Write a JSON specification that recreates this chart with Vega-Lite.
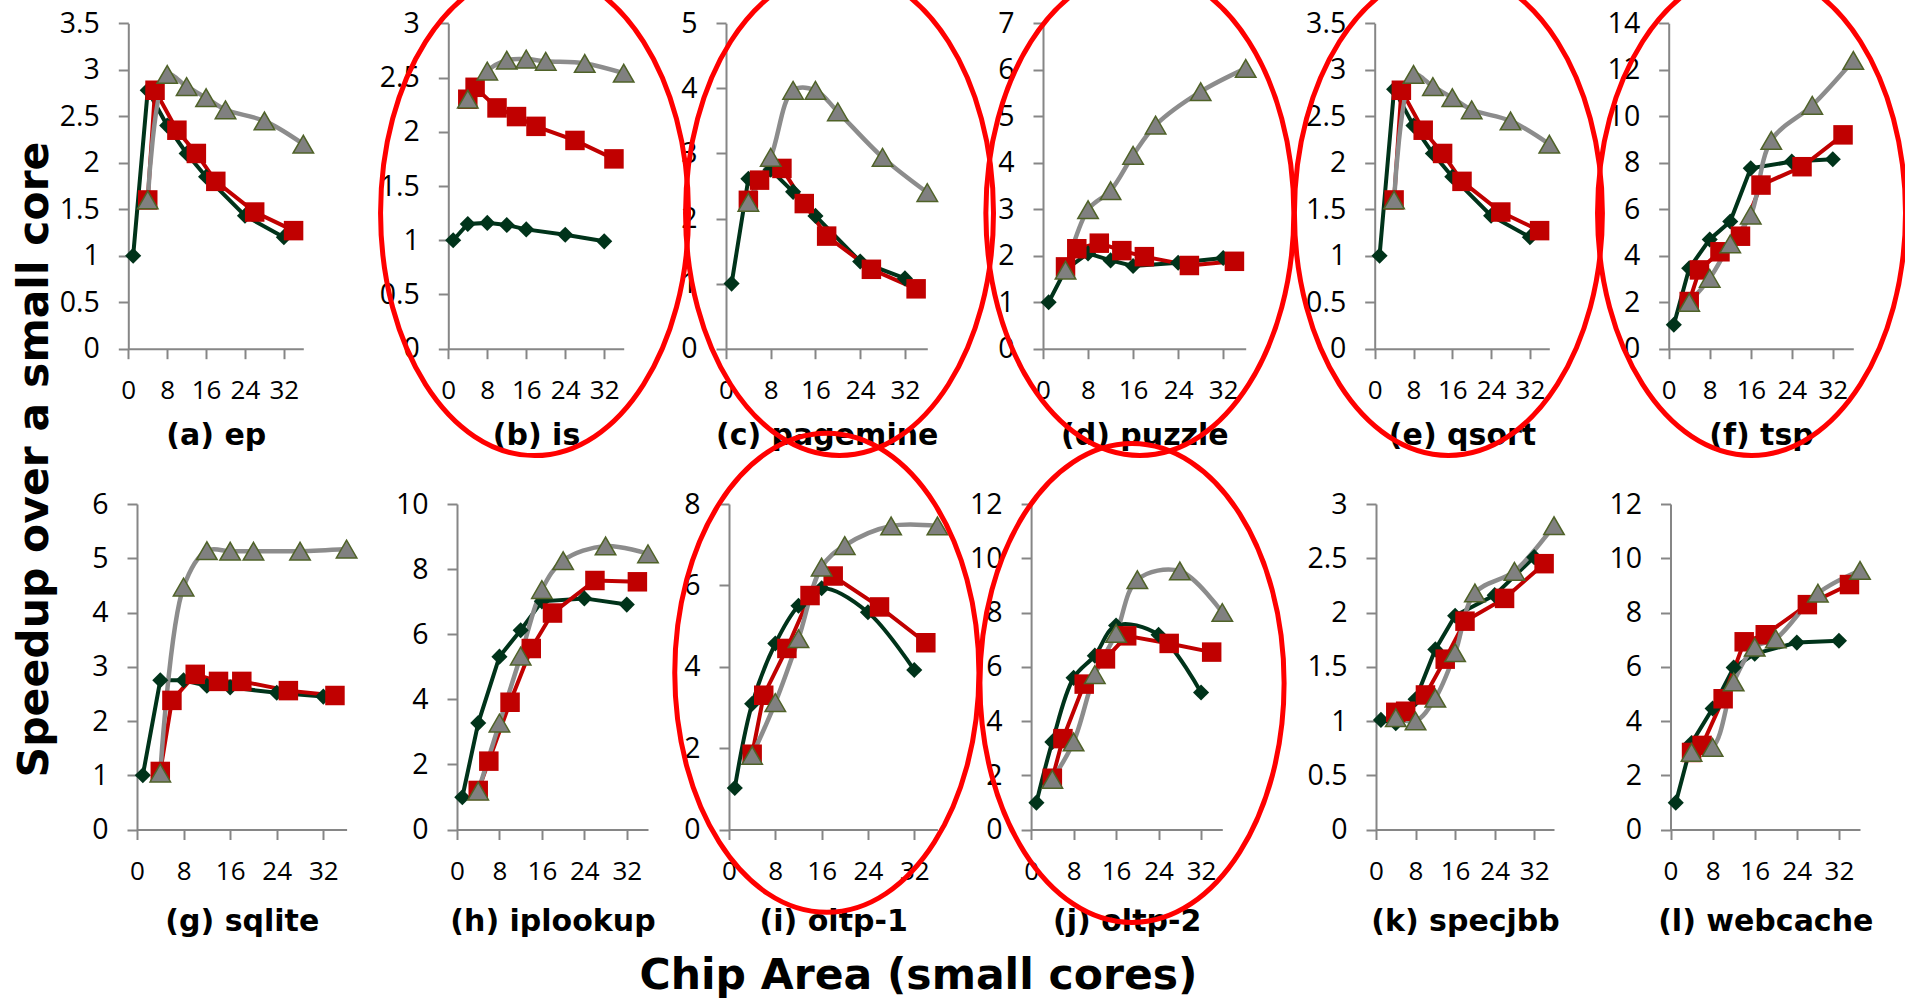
{
"$schema": "https://vega.github.io/schema/vega-lite/v6.json",
"width": 1905, "height": 1001,
"autosize": {"type": "none"},
"padding": 0,
"background": "white",
"config": {
  "view": {"stroke": null},
  "axis": {"domainColor": "#868686", "domainWidth": 2, "tickColor": "#868686", "tickWidth": 2, "tickSize": 10, "grid": false,
    "labelColor": "#000", "labelFont": "Open Sans", "titleFont": "DejaVu Sans", "titleFontWeight": "bold", "titleColor": "#000",
    "labelOverlap": false, "labelFlush": false},
  "axisX": {"labelFontSize": 26, "labelBaseline": "alphabetic", "labelPadding": 40, "titleFontSize": 30, "titleBaseline": "alphabetic", "format": "d"},
  "axisY": {"labelFontSize": 28.5, "labelPadding": 19, "format": "~f"}
},
"title": {"text": "Chip Area (small cores)", "orient": "bottom", "frame": "group", "anchor": "middle", "dx": -34, "offset": -12, "baseline": "alphabetic", "font": "DejaVu Sans", "fontSize": 42.5, "fontWeight": "bold", "color": "#000"},
"datasets": {
"hl": [
{"p":"is","x":17.7,"y":1.25},
{"p":"pagemine","x":20.3,"y":2.085},
{"p":"puzzle","x":17.2,"y":2.92},
{"p":"qsort","x":15.2,"y":1.46},
{"p":"tsp","x":16.15,"y":5.84},
{"p":"oltp-1","x":16.9,"y":3.85},
{"p":"oltp-2","x":19.0,"y":5.4}
],
"pts": [
{"p":"ep","s":"SCMP","x":1,"y":1.0},{"p":"ep","s":"SCMP","x":4,"y":2.78},{"p":"ep","s":"SCMP","x":8,"y":2.4},{"p":"ep","s":"SCMP","x":12,"y":2.1},{"p":"ep","s":"SCMP","x":16,"y":1.85},{"p":"ep","s":"SCMP","x":24,"y":1.43},{"p":"ep","s":"SCMP","x":32,"y":1.2},
{"p":"ep","s":"ACMP","x":4,"y":1.6},{"p":"ep","s":"ACMP","x":5.5,"y":2.78},{"p":"ep","s":"ACMP","x":10,"y":2.35},{"p":"ep","s":"ACMP","x":14,"y":2.1},{"p":"ep","s":"ACMP","x":18,"y":1.8},{"p":"ep","s":"ACMP","x":26,"y":1.47},{"p":"ep","s":"ACMP","x":34,"y":1.27},
{"p":"ep","s":"ACS","x":4,"y":1.6},{"p":"ep","s":"ACS","x":8,"y":2.95},{"p":"ep","s":"ACS","x":12,"y":2.82},{"p":"ep","s":"ACS","x":16,"y":2.7},{"p":"ep","s":"ACS","x":20,"y":2.57},{"p":"ep","s":"ACS","x":28,"y":2.45},{"p":"ep","s":"ACS","x":36,"y":2.2},
{"p":"is","s":"SCMP","x":1,"y":1.0},{"p":"is","s":"SCMP","x":4,"y":1.15},{"p":"is","s":"SCMP","x":8,"y":1.16},{"p":"is","s":"SCMP","x":12,"y":1.14},{"p":"is","s":"SCMP","x":16,"y":1.1},{"p":"is","s":"SCMP","x":24,"y":1.05},{"p":"is","s":"SCMP","x":32,"y":0.99},
{"p":"is","s":"ACMP","x":4,"y":2.3},{"p":"is","s":"ACMP","x":5.5,"y":2.41},{"p":"is","s":"ACMP","x":10,"y":2.22},{"p":"is","s":"ACMP","x":14,"y":2.14},{"p":"is","s":"ACMP","x":18,"y":2.05},{"p":"is","s":"ACMP","x":26,"y":1.92},{"p":"is","s":"ACMP","x":34,"y":1.75},
{"p":"is","s":"ACS","x":4,"y":2.3},{"p":"is","s":"ACS","x":8,"y":2.56},{"p":"is","s":"ACS","x":12,"y":2.66},{"p":"is","s":"ACS","x":16,"y":2.67},{"p":"is","s":"ACS","x":20,"y":2.65},{"p":"is","s":"ACS","x":28,"y":2.63},{"p":"is","s":"ACS","x":36,"y":2.54},
{"p":"pagemine","s":"SCMP","x":1,"y":1.0},{"p":"pagemine","s":"SCMP","x":4,"y":2.61},{"p":"pagemine","s":"SCMP","x":8,"y":2.75},{"p":"pagemine","s":"SCMP","x":12,"y":2.41},{"p":"pagemine","s":"SCMP","x":16,"y":2.04},{"p":"pagemine","s":"SCMP","x":24,"y":1.34},{"p":"pagemine","s":"SCMP","x":32,"y":1.08},
{"p":"pagemine","s":"ACMP","x":4,"y":2.28},{"p":"pagemine","s":"ACMP","x":6,"y":2.59},{"p":"pagemine","s":"ACMP","x":10,"y":2.77},{"p":"pagemine","s":"ACMP","x":14,"y":2.23},{"p":"pagemine","s":"ACMP","x":18,"y":1.73},{"p":"pagemine","s":"ACMP","x":26,"y":1.22},{"p":"pagemine","s":"ACMP","x":34,"y":0.92},
{"p":"pagemine","s":"ACS","x":4,"y":2.25},{"p":"pagemine","s":"ACS","x":8,"y":2.94},{"p":"pagemine","s":"ACS","x":12,"y":3.97},{"p":"pagemine","s":"ACS","x":16,"y":3.97},{"p":"pagemine","s":"ACS","x":20,"y":3.64},{"p":"pagemine","s":"ACS","x":28,"y":2.94},{"p":"pagemine","s":"ACS","x":36,"y":2.4},
{"p":"puzzle","s":"SCMP","x":1,"y":1.0},{"p":"puzzle","s":"SCMP","x":4,"y":1.7},{"p":"puzzle","s":"SCMP","x":8,"y":2.05},{"p":"puzzle","s":"SCMP","x":12,"y":1.9},{"p":"puzzle","s":"SCMP","x":16,"y":1.78},{"p":"puzzle","s":"SCMP","x":24,"y":1.85},{"p":"puzzle","s":"SCMP","x":32,"y":1.95},
{"p":"puzzle","s":"ACMP","x":4,"y":1.76},{"p":"puzzle","s":"ACMP","x":6,"y":2.15},{"p":"puzzle","s":"ACMP","x":10,"y":2.27},{"p":"puzzle","s":"ACMP","x":14,"y":2.11},{"p":"puzzle","s":"ACMP","x":18,"y":1.98},{"p":"puzzle","s":"ACMP","x":26,"y":1.79},{"p":"puzzle","s":"ACMP","x":34,"y":1.88},
{"p":"puzzle","s":"ACS","x":4,"y":1.69},{"p":"puzzle","s":"ACS","x":8,"y":2.99},{"p":"puzzle","s":"ACS","x":12,"y":3.4},{"p":"puzzle","s":"ACS","x":16,"y":4.16},{"p":"puzzle","s":"ACS","x":20,"y":4.81},{"p":"puzzle","s":"ACS","x":28,"y":5.53},{"p":"puzzle","s":"ACS","x":36,"y":6.03},
{"p":"qsort","s":"SCMP","x":1,"y":1.0},{"p":"qsort","s":"SCMP","x":4,"y":2.79},{"p":"qsort","s":"SCMP","x":8,"y":2.4},{"p":"qsort","s":"SCMP","x":12,"y":2.1},{"p":"qsort","s":"SCMP","x":16,"y":1.85},{"p":"qsort","s":"SCMP","x":24,"y":1.43},{"p":"qsort","s":"SCMP","x":32,"y":1.2},
{"p":"qsort","s":"ACMP","x":4,"y":1.6},{"p":"qsort","s":"ACMP","x":5.5,"y":2.78},{"p":"qsort","s":"ACMP","x":10,"y":2.35},{"p":"qsort","s":"ACMP","x":14,"y":2.1},{"p":"qsort","s":"ACMP","x":18,"y":1.8},{"p":"qsort","s":"ACMP","x":26,"y":1.47},{"p":"qsort","s":"ACMP","x":34,"y":1.27},
{"p":"qsort","s":"ACS","x":4,"y":1.6},{"p":"qsort","s":"ACS","x":8,"y":2.95},{"p":"qsort","s":"ACS","x":12,"y":2.82},{"p":"qsort","s":"ACS","x":16,"y":2.7},{"p":"qsort","s":"ACS","x":20,"y":2.57},{"p":"qsort","s":"ACS","x":28,"y":2.45},{"p":"qsort","s":"ACS","x":36,"y":2.2},
{"p":"tsp","s":"SCMP","x":1,"y":1.03},{"p":"tsp","s":"SCMP","x":4,"y":3.46},{"p":"tsp","s":"SCMP","x":8,"y":4.7},{"p":"tsp","s":"SCMP","x":12,"y":5.47},{"p":"tsp","s":"SCMP","x":16,"y":7.76},{"p":"tsp","s":"SCMP","x":24,"y":8.05},{"p":"tsp","s":"SCMP","x":32,"y":8.15},
{"p":"tsp","s":"ACMP","x":4,"y":2.03},{"p":"tsp","s":"ACMP","x":6,"y":3.39},{"p":"tsp","s":"ACMP","x":10,"y":4.17},{"p":"tsp","s":"ACMP","x":14,"y":4.84},{"p":"tsp","s":"ACMP","x":18,"y":7.04},{"p":"tsp","s":"ACMP","x":26,"y":7.83},{"p":"tsp","s":"ACMP","x":34,"y":9.2},
{"p":"tsp","s":"ACS","x":4,"y":1.99},{"p":"tsp","s":"ACS","x":8,"y":3.03},{"p":"tsp","s":"ACS","x":12,"y":4.51},{"p":"tsp","s":"ACS","x":16,"y":5.75},{"p":"tsp","s":"ACS","x":20,"y":8.96},{"p":"tsp","s":"ACS","x":28,"y":10.47},{"p":"tsp","s":"ACS","x":36,"y":12.4},
{"p":"sqlite","s":"SCMP","x":1,"y":1.0},{"p":"sqlite","s":"SCMP","x":4,"y":2.75},{"p":"sqlite","s":"SCMP","x":8,"y":2.75},{"p":"sqlite","s":"SCMP","x":12,"y":2.65},{"p":"sqlite","s":"SCMP","x":16,"y":2.62},{"p":"sqlite","s":"SCMP","x":24,"y":2.52},{"p":"sqlite","s":"SCMP","x":32,"y":2.45},
{"p":"sqlite","s":"ACMP","x":4,"y":1.07},{"p":"sqlite","s":"ACMP","x":6,"y":2.38},{"p":"sqlite","s":"ACMP","x":10,"y":2.86},{"p":"sqlite","s":"ACMP","x":14,"y":2.73},{"p":"sqlite","s":"ACMP","x":18,"y":2.73},{"p":"sqlite","s":"ACMP","x":26,"y":2.56},{"p":"sqlite","s":"ACMP","x":34,"y":2.47},
{"p":"sqlite","s":"ACS","x":4,"y":1.04},{"p":"sqlite","s":"ACS","x":8,"y":4.47},{"p":"sqlite","s":"ACS","x":12,"y":5.14},{"p":"sqlite","s":"ACS","x":16,"y":5.13},{"p":"sqlite","s":"ACS","x":20,"y":5.13},{"p":"sqlite","s":"ACS","x":28,"y":5.13},{"p":"sqlite","s":"ACS","x":36,"y":5.17},
{"p":"iplookup","s":"SCMP","x":1,"y":0.99},{"p":"iplookup","s":"SCMP","x":4,"y":3.27},{"p":"iplookup","s":"SCMP","x":8,"y":5.31},{"p":"iplookup","s":"SCMP","x":12,"y":6.12},{"p":"iplookup","s":"SCMP","x":16,"y":7.01},{"p":"iplookup","s":"SCMP","x":24,"y":7.1},{"p":"iplookup","s":"SCMP","x":32,"y":6.91},
{"p":"iplookup","s":"ACMP","x":4,"y":1.2},{"p":"iplookup","s":"ACMP","x":6,"y":2.1},{"p":"iplookup","s":"ACMP","x":10,"y":3.91},{"p":"iplookup","s":"ACMP","x":14,"y":5.56},{"p":"iplookup","s":"ACMP","x":18,"y":6.65},{"p":"iplookup","s":"ACMP","x":26,"y":7.65},{"p":"iplookup","s":"ACMP","x":34,"y":7.61},
{"p":"iplookup","s":"ACS","x":4,"y":1.18},{"p":"iplookup","s":"ACS","x":8,"y":3.27},{"p":"iplookup","s":"ACS","x":12,"y":5.33},{"p":"iplookup","s":"ACS","x":16,"y":7.37},{"p":"iplookup","s":"ACS","x":20,"y":8.26},{"p":"iplookup","s":"ACS","x":28,"y":8.71},{"p":"iplookup","s":"ACS","x":36,"y":8.47},
{"p":"oltp-1","s":"SCMP","x":1,"y":1.02},{"p":"oltp-1","s":"SCMP","x":4,"y":3.09},{"p":"oltp-1","s":"SCMP","x":8,"y":4.57},{"p":"oltp-1","s":"SCMP","x":12,"y":5.5},{"p":"oltp-1","s":"SCMP","x":16,"y":5.93},{"p":"oltp-1","s":"SCMP","x":24,"y":5.34},{"p":"oltp-1","s":"SCMP","x":32,"y":3.92},
{"p":"oltp-1","s":"ACMP","x":4,"y":1.85},{"p":"oltp-1","s":"ACMP","x":6,"y":3.3},{"p":"oltp-1","s":"ACMP","x":10,"y":4.45},{"p":"oltp-1","s":"ACMP","x":14,"y":5.75},{"p":"oltp-1","s":"ACMP","x":18,"y":6.23},{"p":"oltp-1","s":"ACMP","x":26,"y":5.47},{"p":"oltp-1","s":"ACMP","x":34,"y":4.59},
{"p":"oltp-1","s":"ACS","x":4,"y":1.82},{"p":"oltp-1","s":"ACS","x":8,"y":3.12},{"p":"oltp-1","s":"ACS","x":12,"y":4.69},{"p":"oltp-1","s":"ACS","x":16,"y":6.45},{"p":"oltp-1","s":"ACS","x":20,"y":6.98},{"p":"oltp-1","s":"ACS","x":28,"y":7.46},{"p":"oltp-1","s":"ACS","x":36,"y":7.46},
{"p":"oltp-2","s":"SCMP","x":1,"y":0.99},{"p":"oltp-2","s":"SCMP","x":4,"y":3.23},{"p":"oltp-2","s":"SCMP","x":8,"y":5.59},{"p":"oltp-2","s":"SCMP","x":12,"y":6.41},{"p":"oltp-2","s":"SCMP","x":16,"y":7.52},{"p":"oltp-2","s":"SCMP","x":24,"y":7.18},{"p":"oltp-2","s":"SCMP","x":32,"y":5.05},
{"p":"oltp-2","s":"ACMP","x":4,"y":1.89},{"p":"oltp-2","s":"ACMP","x":6,"y":3.35},{"p":"oltp-2","s":"ACMP","x":10,"y":5.36},{"p":"oltp-2","s":"ACMP","x":14,"y":6.29},{"p":"oltp-2","s":"ACMP","x":18,"y":7.14},{"p":"oltp-2","s":"ACMP","x":26,"y":6.86},{"p":"oltp-2","s":"ACMP","x":34,"y":6.54},
{"p":"oltp-2","s":"ACS","x":4,"y":1.85},{"p":"oltp-2","s":"ACS","x":8,"y":3.23},{"p":"oltp-2","s":"ACS","x":12,"y":5.71},{"p":"oltp-2","s":"ACS","x":16,"y":7.23},{"p":"oltp-2","s":"ACS","x":20,"y":9.21},{"p":"oltp-2","s":"ACS","x":28,"y":9.53},{"p":"oltp-2","s":"ACS","x":36,"y":8.0},
{"p":"specjbb","s":"SCMP","x":1,"y":1.01},{"p":"specjbb","s":"SCMP","x":4,"y":0.98},{"p":"specjbb","s":"SCMP","x":8,"y":1.2},{"p":"specjbb","s":"SCMP","x":12,"y":1.66},{"p":"specjbb","s":"SCMP","x":16,"y":1.97},{"p":"specjbb","s":"SCMP","x":24,"y":2.16},{"p":"specjbb","s":"SCMP","x":32,"y":2.51},
{"p":"specjbb","s":"ACMP","x":4,"y":1.08},{"p":"specjbb","s":"ACMP","x":6,"y":1.09},{"p":"specjbb","s":"ACMP","x":10,"y":1.24},{"p":"specjbb","s":"ACMP","x":14,"y":1.57},{"p":"specjbb","s":"ACMP","x":18,"y":1.92},{"p":"specjbb","s":"ACMP","x":26,"y":2.13},{"p":"specjbb","s":"ACMP","x":34,"y":2.45},
{"p":"specjbb","s":"ACS","x":4,"y":1.03},{"p":"specjbb","s":"ACS","x":8,"y":1.0},{"p":"specjbb","s":"ACS","x":12,"y":1.21},{"p":"specjbb","s":"ACS","x":16,"y":1.63},{"p":"specjbb","s":"ACS","x":20,"y":2.18},{"p":"specjbb","s":"ACS","x":28,"y":2.38},{"p":"specjbb","s":"ACS","x":36,"y":2.8},
{"p":"webcache","s":"SCMP","x":1,"y":0.99},{"p":"webcache","s":"SCMP","x":4,"y":3.19},{"p":"webcache","s":"SCMP","x":8,"y":4.46},{"p":"webcache","s":"SCMP","x":12,"y":5.97},{"p":"webcache","s":"SCMP","x":16,"y":6.48},{"p":"webcache","s":"SCMP","x":24,"y":6.89},{"p":"webcache","s":"SCMP","x":32,"y":6.96},
{"p":"webcache","s":"ACMP","x":4,"y":2.84},{"p":"webcache","s":"ACMP","x":6,"y":3.1},{"p":"webcache","s":"ACMP","x":10,"y":4.82},{"p":"webcache","s":"ACMP","x":14,"y":6.92},{"p":"webcache","s":"ACMP","x":18,"y":7.18},{"p":"webcache","s":"ACMP","x":26,"y":8.29},{"p":"webcache","s":"ACMP","x":34,"y":9.03},
{"p":"webcache","s":"ACS","x":4,"y":2.84},{"p":"webcache","s":"ACS","x":8,"y":3.03},{"p":"webcache","s":"ACS","x":12,"y":5.44},{"p":"webcache","s":"ACS","x":16,"y":6.72},{"p":"webcache","s":"ACS","x":20,"y":7.03},{"p":"webcache","s":"ACS","x":28,"y":8.71},{"p":"webcache","s":"ACS","x":36,"y":9.55}
]
},
"data": {"name": "pts"},
"layer": [
{"transform": [{"filter": "datum.p === 'ep'"}],
 "encoding": {
  "x": {"field": "x", "type": "quantitative", "scale": {"domain": [0,36], "range": [128.3,303.3], "nice": false, "zero": false}, "axis": {"orient": "bottom", "values": [0,8,16,24,32], "offset": -652.3, "title": "(a) ep", "titleY": 96}},
  "y": {"field": "y", "type": "quantitative", "scale": {"domain": [0,3.5], "range": [348.7,23.3], "nice": false}, "axis": {"orient": "left", "values": [0,0.5,1,1.5,2,2.5,3,3.5], "offset": -128.3, "title": "Speedup over a small core", "titleFontSize": 42.5, "titleX": -81, "titleY": 459, "titleAngle": 270, "titleAlign": "center", "titleBaseline": "alphabetic"}}
 },
 "layer": [
  {"transform": [{"filter": "datum.s === 'SCMP'"}], "mark": {"type": "line", "color": "#00331a", "strokeWidth": 4}, "encoding": {}},
  {"transform": [{"filter": "datum.s === 'ACMP'"}], "mark": {"type": "line", "color": "#c00000", "strokeWidth": 4}, "encoding": {}},
  {"transform": [{"filter": "datum.s === 'ACS'"}], "mark": {"type": "line", "color": "#8c8c8c", "strokeWidth": 4.5, "interpolate": "catmull-rom"}, "encoding": {}},
  {"transform": [{"filter": "datum.s === 'SCMP'"}], "mark": {"type": "point", "shape": "diamond", "filled": true, "color": "#00331a", "size": 260, "opacity": 1}},
  {"transform": [{"filter": "datum.s === 'ACMP'"}], "mark": {"type": "point", "shape": "square", "filled": true, "color": "#c00000", "size": 380, "opacity": 1}},
  {"transform": [{"filter": "datum.s === 'ACS'"}], "mark": {"type": "point", "shape": "triangle-up", "filled": true, "fill": "#808080", "stroke": "#4f6228", "strokeWidth": 1.5, "size": 420, "opacity": 1}}
 ]},
{"transform": [{"filter": "datum.p === 'is'"}],
 "encoding": {
  "x": {"field": "x", "type": "quantitative", "scale": {"domain": [0,36], "range": [448.3,623.7], "nice": false, "zero": false}, "axis": {"orient": "bottom", "values": [0,8,16,24,32], "offset": -652.3, "title": "(b) is", "titleY": 96}},
  "y": {"field": "y", "type": "quantitative", "scale": {"domain": [0,3], "range": [348.7,23.3], "nice": false}, "axis": {"orient": "left", "values": [0,0.5,1,1.5,2,2.5,3], "offset": -448.3, "title": null}}
 },
 "layer": [
  {"transform": [{"filter": "datum.s === 'SCMP'"}], "mark": {"type": "line", "color": "#00331a", "strokeWidth": 4}, "encoding": {}},
  {"transform": [{"filter": "datum.s === 'ACMP'"}], "mark": {"type": "line", "color": "#c00000", "strokeWidth": 4}, "encoding": {}},
  {"transform": [{"filter": "datum.s === 'ACS'"}], "mark": {"type": "line", "color": "#8c8c8c", "strokeWidth": 4.5, "interpolate": "catmull-rom"}, "encoding": {}},
  {"transform": [{"filter": "datum.s === 'SCMP'"}], "mark": {"type": "point", "shape": "diamond", "filled": true, "color": "#00331a", "size": 260, "opacity": 1}},
  {"transform": [{"filter": "datum.s === 'ACMP'"}], "mark": {"type": "point", "shape": "square", "filled": true, "color": "#c00000", "size": 380, "opacity": 1}},
  {"transform": [{"filter": "datum.s === 'ACS'"}], "mark": {"type": "point", "shape": "triangle-up", "filled": true, "fill": "#808080", "stroke": "#4f6228", "strokeWidth": 1.5, "size": 420, "opacity": 1}},
  {"data": {"name": "hl"}, "transform": [{"filter": "datum.p === 'is'"}], "mark": {"type": "point", "shape": "M0.635,0C0.635,0.5523,0.3507,1,0,1C-0.3507,1,-0.635,0.5523,-0.635,0C-0.635,-0.5523,-0.3507,-1,0,-1C0.3507,-1,0.635,-0.5523,0.635,0Z", "size": 235225, "filled": false, "color": "#ff0000", "strokeWidth": 5, "opacity": 1}}
 ]},
{"transform": [{"filter": "datum.p === 'pagemine'"}],
 "encoding": {
  "x": {"field": "x", "type": "quantitative", "scale": {"domain": [0,36], "range": [726,927.3], "nice": false, "zero": false}, "axis": {"orient": "bottom", "values": [0,8,16,24,32], "offset": -652.3, "title": "(c) pagemine", "titleY": 96}},
  "y": {"field": "y", "type": "quantitative", "scale": {"domain": [0,5], "range": [348.7,23.3], "nice": false}, "axis": {"orient": "left", "values": [0,1,2,3,4,5], "offset": -726, "title": null}}
 },
 "layer": [
  {"transform": [{"filter": "datum.s === 'SCMP'"}], "mark": {"type": "line", "color": "#00331a", "strokeWidth": 4}, "encoding": {}},
  {"transform": [{"filter": "datum.s === 'ACMP'"}], "mark": {"type": "line", "color": "#c00000", "strokeWidth": 4}, "encoding": {}},
  {"transform": [{"filter": "datum.s === 'ACS'"}], "mark": {"type": "line", "color": "#8c8c8c", "strokeWidth": 4.5, "interpolate": "catmull-rom"}, "encoding": {}},
  {"transform": [{"filter": "datum.s === 'SCMP'"}], "mark": {"type": "point", "shape": "diamond", "filled": true, "color": "#00331a", "size": 260, "opacity": 1}},
  {"transform": [{"filter": "datum.s === 'ACMP'"}], "mark": {"type": "point", "shape": "square", "filled": true, "color": "#c00000", "size": 380, "opacity": 1}},
  {"transform": [{"filter": "datum.s === 'ACS'"}], "mark": {"type": "point", "shape": "triangle-up", "filled": true, "fill": "#808080", "stroke": "#4f6228", "strokeWidth": 1.5, "size": 420, "opacity": 1}},
  {"data": {"name": "hl"}, "transform": [{"filter": "datum.p === 'pagemine'"}], "mark": {"type": "point", "shape": "M0.635,0C0.635,0.5523,0.3507,1,0,1C-0.3507,1,-0.635,0.5523,-0.635,0C-0.635,-0.5523,-0.3507,-1,0,-1C0.3507,-1,0.635,-0.5523,0.635,0Z", "size": 235225, "filled": false, "color": "#ff0000", "strokeWidth": 5, "opacity": 1}}
 ]},
{"transform": [{"filter": "datum.p === 'puzzle'"}],
 "encoding": {
  "x": {"field": "x", "type": "quantitative", "scale": {"domain": [0,36], "range": [1043,1245.7], "nice": false, "zero": false}, "axis": {"orient": "bottom", "values": [0,8,16,24,32], "offset": -652.3, "title": "(d) puzzle", "titleY": 96}},
  "y": {"field": "y", "type": "quantitative", "scale": {"domain": [0,7], "range": [348.7,23.3], "nice": false}, "axis": {"orient": "left", "values": [0,1,2,3,4,5,6,7], "offset": -1043, "title": null}}
 },
 "layer": [
  {"transform": [{"filter": "datum.s === 'SCMP'"}], "mark": {"type": "line", "color": "#00331a", "strokeWidth": 4}, "encoding": {}},
  {"transform": [{"filter": "datum.s === 'ACMP'"}], "mark": {"type": "line", "color": "#c00000", "strokeWidth": 4}, "encoding": {}},
  {"transform": [{"filter": "datum.s === 'ACS'"}], "mark": {"type": "line", "color": "#8c8c8c", "strokeWidth": 4.5, "interpolate": "catmull-rom"}, "encoding": {}},
  {"transform": [{"filter": "datum.s === 'SCMP'"}], "mark": {"type": "point", "shape": "diamond", "filled": true, "color": "#00331a", "size": 260, "opacity": 1}},
  {"transform": [{"filter": "datum.s === 'ACMP'"}], "mark": {"type": "point", "shape": "square", "filled": true, "color": "#c00000", "size": 380, "opacity": 1}},
  {"transform": [{"filter": "datum.s === 'ACS'"}], "mark": {"type": "point", "shape": "triangle-up", "filled": true, "fill": "#808080", "stroke": "#4f6228", "strokeWidth": 1.5, "size": 420, "opacity": 1}},
  {"data": {"name": "hl"}, "transform": [{"filter": "datum.p === 'puzzle'"}], "mark": {"type": "point", "shape": "M0.635,0C0.635,0.5523,0.3507,1,0,1C-0.3507,1,-0.635,0.5523,-0.635,0C-0.635,-0.5523,-0.3507,-1,0,-1C0.3507,-1,0.635,-0.5523,0.635,0Z", "size": 235225, "filled": false, "color": "#ff0000", "strokeWidth": 5, "opacity": 1}}
 ]},
{"transform": [{"filter": "datum.p === 'qsort'"}],
 "encoding": {
  "x": {"field": "x", "type": "quantitative", "scale": {"domain": [0,36], "range": [1374.7,1549.3], "nice": false, "zero": false}, "axis": {"orient": "bottom", "values": [0,8,16,24,32], "offset": -652.3, "title": "(e) qsort", "titleY": 96}},
  "y": {"field": "y", "type": "quantitative", "scale": {"domain": [0,3.5], "range": [348.7,23.3], "nice": false}, "axis": {"orient": "left", "values": [0,0.5,1,1.5,2,2.5,3,3.5], "offset": -1374.7, "title": null}}
 },
 "layer": [
  {"transform": [{"filter": "datum.s === 'SCMP'"}], "mark": {"type": "line", "color": "#00331a", "strokeWidth": 4}, "encoding": {}},
  {"transform": [{"filter": "datum.s === 'ACMP'"}], "mark": {"type": "line", "color": "#c00000", "strokeWidth": 4}, "encoding": {}},
  {"transform": [{"filter": "datum.s === 'ACS'"}], "mark": {"type": "line", "color": "#8c8c8c", "strokeWidth": 4.5, "interpolate": "catmull-rom"}, "encoding": {}},
  {"transform": [{"filter": "datum.s === 'SCMP'"}], "mark": {"type": "point", "shape": "diamond", "filled": true, "color": "#00331a", "size": 260, "opacity": 1}},
  {"transform": [{"filter": "datum.s === 'ACMP'"}], "mark": {"type": "point", "shape": "square", "filled": true, "color": "#c00000", "size": 380, "opacity": 1}},
  {"transform": [{"filter": "datum.s === 'ACS'"}], "mark": {"type": "point", "shape": "triangle-up", "filled": true, "fill": "#808080", "stroke": "#4f6228", "strokeWidth": 1.5, "size": 420, "opacity": 1}},
  {"data": {"name": "hl"}, "transform": [{"filter": "datum.p === 'qsort'"}], "mark": {"type": "point", "shape": "M0.635,0C0.635,0.5523,0.3507,1,0,1C-0.3507,1,-0.635,0.5523,-0.635,0C-0.635,-0.5523,-0.3507,-1,0,-1C0.3507,-1,0.635,-0.5523,0.635,0Z", "size": 235225, "filled": false, "color": "#ff0000", "strokeWidth": 5, "opacity": 1}}
 ]},
{"transform": [{"filter": "datum.p === 'tsp'"}],
 "encoding": {
  "x": {"field": "x", "type": "quantitative", "scale": {"domain": [0,36], "range": [1668.7,1853.3], "nice": false, "zero": false}, "axis": {"orient": "bottom", "values": [0,8,16,24,32], "offset": -652.3, "title": "(f) tsp", "titleY": 96}},
  "y": {"field": "y", "type": "quantitative", "scale": {"domain": [0,14], "range": [348.7,23.3], "nice": false}, "axis": {"orient": "left", "values": [0,2,4,6,8,10,12,14], "offset": -1668.7, "title": null}}
 },
 "layer": [
  {"transform": [{"filter": "datum.s === 'SCMP'"}], "mark": {"type": "line", "color": "#00331a", "strokeWidth": 4}, "encoding": {}},
  {"transform": [{"filter": "datum.s === 'ACMP'"}], "mark": {"type": "line", "color": "#c00000", "strokeWidth": 4}, "encoding": {}},
  {"transform": [{"filter": "datum.s === 'ACS'"}], "mark": {"type": "line", "color": "#8c8c8c", "strokeWidth": 4.5, "interpolate": "catmull-rom"}, "encoding": {}},
  {"transform": [{"filter": "datum.s === 'SCMP'"}], "mark": {"type": "point", "shape": "diamond", "filled": true, "color": "#00331a", "size": 260, "opacity": 1}},
  {"transform": [{"filter": "datum.s === 'ACMP'"}], "mark": {"type": "point", "shape": "square", "filled": true, "color": "#c00000", "size": 380, "opacity": 1}},
  {"transform": [{"filter": "datum.s === 'ACS'"}], "mark": {"type": "point", "shape": "triangle-up", "filled": true, "fill": "#808080", "stroke": "#4f6228", "strokeWidth": 1.5, "size": 420, "opacity": 1}},
  {"data": {"name": "hl"}, "transform": [{"filter": "datum.p === 'tsp'"}], "mark": {"type": "point", "shape": "M0.635,0C0.635,0.5523,0.3507,1,0,1C-0.3507,1,-0.635,0.5523,-0.635,0C-0.635,-0.5523,-0.3507,-1,0,-1C0.3507,-1,0.635,-0.5523,0.635,0Z", "size": 235225, "filled": false, "color": "#ff0000", "strokeWidth": 5, "opacity": 1}}
 ]},
{"transform": [{"filter": "datum.p === 'sqlite'"}],
 "encoding": {
  "x": {"field": "x", "type": "quantitative", "scale": {"domain": [0,36], "range": [137,346.6], "nice": false, "zero": false}, "axis": {"orient": "bottom", "values": [0,8,16,24,32], "offset": -171.5, "title": "(g) sqlite", "titleY": 101}},
  "y": {"field": "y", "type": "quantitative", "scale": {"domain": [0,6], "range": [829.5,504], "nice": false}, "axis": {"orient": "left", "values": [0,1,2,3,4,5,6], "offset": -137, "title": null}}
 },
 "layer": [
  {"transform": [{"filter": "datum.s === 'SCMP'"}], "mark": {"type": "line", "color": "#00331a", "strokeWidth": 4}, "encoding": {}},
  {"transform": [{"filter": "datum.s === 'ACMP'"}], "mark": {"type": "line", "color": "#c00000", "strokeWidth": 4}, "encoding": {}},
  {"transform": [{"filter": "datum.s === 'ACS'"}], "mark": {"type": "line", "color": "#8c8c8c", "strokeWidth": 4.5, "interpolate": "catmull-rom"}, "encoding": {}},
  {"transform": [{"filter": "datum.s === 'SCMP'"}], "mark": {"type": "point", "shape": "diamond", "filled": true, "color": "#00331a", "size": 260, "opacity": 1}},
  {"transform": [{"filter": "datum.s === 'ACMP'"}], "mark": {"type": "point", "shape": "square", "filled": true, "color": "#c00000", "size": 380, "opacity": 1}},
  {"transform": [{"filter": "datum.s === 'ACS'"}], "mark": {"type": "point", "shape": "triangle-up", "filled": true, "fill": "#808080", "stroke": "#4f6228", "strokeWidth": 1.5, "size": 420, "opacity": 1}}
 ]},
{"transform": [{"filter": "datum.p === 'iplookup'"}],
 "encoding": {
  "x": {"field": "x", "type": "quantitative", "scale": {"domain": [0,36], "range": [457,648], "nice": false, "zero": false}, "axis": {"orient": "bottom", "values": [0,8,16,24,32], "offset": -171.5, "title": "(h) iplookup", "titleY": 101}},
  "y": {"field": "y", "type": "quantitative", "scale": {"domain": [0,10], "range": [829.5,504], "nice": false}, "axis": {"orient": "left", "values": [0,2,4,6,8,10], "offset": -457, "title": null}}
 },
 "layer": [
  {"transform": [{"filter": "datum.s === 'SCMP'"}], "mark": {"type": "line", "color": "#00331a", "strokeWidth": 4}, "encoding": {}},
  {"transform": [{"filter": "datum.s === 'ACMP'"}], "mark": {"type": "line", "color": "#c00000", "strokeWidth": 4}, "encoding": {}},
  {"transform": [{"filter": "datum.s === 'ACS'"}], "mark": {"type": "line", "color": "#8c8c8c", "strokeWidth": 4.5, "interpolate": "catmull-rom"}, "encoding": {}},
  {"transform": [{"filter": "datum.s === 'SCMP'"}], "mark": {"type": "point", "shape": "diamond", "filled": true, "color": "#00331a", "size": 260, "opacity": 1}},
  {"transform": [{"filter": "datum.s === 'ACMP'"}], "mark": {"type": "point", "shape": "square", "filled": true, "color": "#c00000", "size": 380, "opacity": 1}},
  {"transform": [{"filter": "datum.s === 'ACS'"}], "mark": {"type": "point", "shape": "triangle-up", "filled": true, "fill": "#808080", "stroke": "#4f6228", "strokeWidth": 1.5, "size": 420, "opacity": 1}}
 ]},
{"transform": [{"filter": "datum.p === 'oltp-1'"}],
 "encoding": {
  "x": {"field": "x", "type": "quantitative", "scale": {"domain": [0,36], "range": [729,937.4], "nice": false, "zero": false}, "axis": {"orient": "bottom", "values": [0,8,16,24,32], "offset": -171.5, "title": "(i) oltp-1", "titleY": 101}},
  "y": {"field": "y", "type": "quantitative", "scale": {"domain": [0,8], "range": [829.5,504], "nice": false}, "axis": {"orient": "left", "values": [0,2,4,6,8], "offset": -729, "title": null}}
 },
 "layer": [
  {"transform": [{"filter": "datum.s === 'SCMP'"}], "mark": {"type": "line", "color": "#00331a", "strokeWidth": 4, "interpolate": "catmull-rom"}, "encoding": {}},
  {"transform": [{"filter": "datum.s === 'ACMP'"}], "mark": {"type": "line", "color": "#c00000", "strokeWidth": 4}, "encoding": {}},
  {"transform": [{"filter": "datum.s === 'ACS'"}], "mark": {"type": "line", "color": "#8c8c8c", "strokeWidth": 4.5, "interpolate": "catmull-rom"}, "encoding": {}},
  {"transform": [{"filter": "datum.s === 'SCMP'"}], "mark": {"type": "point", "shape": "diamond", "filled": true, "color": "#00331a", "size": 260, "opacity": 1}},
  {"transform": [{"filter": "datum.s === 'ACMP'"}], "mark": {"type": "point", "shape": "square", "filled": true, "color": "#c00000", "size": 380, "opacity": 1}},
  {"transform": [{"filter": "datum.s === 'ACS'"}], "mark": {"type": "point", "shape": "triangle-up", "filled": true, "fill": "#808080", "stroke": "#4f6228", "strokeWidth": 1.5, "size": 420, "opacity": 1}},
  {"data": {"name": "hl"}, "transform": [{"filter": "datum.p === 'oltp-1'"}], "mark": {"type": "point", "shape": "M0.635,0C0.635,0.5523,0.3507,1,0,1C-0.3507,1,-0.635,0.5523,-0.635,0C-0.635,-0.5523,-0.3507,-1,0,-1C0.3507,-1,0.635,-0.5523,0.635,0Z", "size": 229441, "filled": false, "color": "#ff0000", "strokeWidth": 5, "opacity": 1}}
 ]},
{"transform": [{"filter": "datum.p === 'oltp-2'"}],
 "encoding": {
  "x": {"field": "x", "type": "quantitative", "scale": {"domain": [0,36], "range": [1031.1,1222.3], "nice": false, "zero": false}, "axis": {"orient": "bottom", "values": [0,8,16,24,32], "offset": -171.5, "title": "(j) oltp-2", "titleY": 101}},
  "y": {"field": "y", "type": "quantitative", "scale": {"domain": [0,12], "range": [829.5,504], "nice": false}, "axis": {"orient": "left", "values": [0,2,4,6,8,10,12], "offset": -1031.1, "title": null}}
 },
 "layer": [
  {"transform": [{"filter": "datum.s === 'SCMP'"}], "mark": {"type": "line", "color": "#00331a", "strokeWidth": 4, "interpolate": "catmull-rom"}, "encoding": {}},
  {"transform": [{"filter": "datum.s === 'ACMP'"}], "mark": {"type": "line", "color": "#c00000", "strokeWidth": 4}, "encoding": {}},
  {"transform": [{"filter": "datum.s === 'ACS'"}], "mark": {"type": "line", "color": "#8c8c8c", "strokeWidth": 4.5, "interpolate": "catmull-rom"}, "encoding": {}},
  {"transform": [{"filter": "datum.s === 'SCMP'"}], "mark": {"type": "point", "shape": "diamond", "filled": true, "color": "#00331a", "size": 260, "opacity": 1}},
  {"transform": [{"filter": "datum.s === 'ACMP'"}], "mark": {"type": "point", "shape": "square", "filled": true, "color": "#c00000", "size": 380, "opacity": 1}},
  {"transform": [{"filter": "datum.s === 'ACS'"}], "mark": {"type": "point", "shape": "triangle-up", "filled": true, "fill": "#808080", "stroke": "#4f6228", "strokeWidth": 1.5, "size": 420, "opacity": 1}},
  {"data": {"name": "hl"}, "transform": [{"filter": "datum.p === 'oltp-2'"}], "mark": {"type": "point", "shape": "M0.635,0C0.635,0.5523,0.3507,1,0,1C-0.3507,1,-0.635,0.5523,-0.635,0C-0.635,-0.5523,-0.3507,-1,0,-1C0.3507,-1,0.635,-0.5523,0.635,0Z", "size": 229441, "filled": false, "color": "#ff0000", "strokeWidth": 5, "opacity": 1}}
 ]},
{"transform": [{"filter": "datum.p === 'specjbb'"}],
 "encoding": {
  "x": {"field": "x", "type": "quantitative", "scale": {"domain": [0,36], "range": [1376,1554], "nice": false, "zero": false}, "axis": {"orient": "bottom", "values": [0,8,16,24,32], "offset": -171.5, "title": "(k) specjbb", "titleY": 101}},
  "y": {"field": "y", "type": "quantitative", "scale": {"domain": [0,3], "range": [829.5,504], "nice": false}, "axis": {"orient": "left", "values": [0,0.5,1,1.5,2,2.5,3], "offset": -1376, "title": null}}
 },
 "layer": [
  {"transform": [{"filter": "datum.s === 'SCMP'"}], "mark": {"type": "line", "color": "#00331a", "strokeWidth": 4}, "encoding": {}},
  {"transform": [{"filter": "datum.s === 'ACMP'"}], "mark": {"type": "line", "color": "#c00000", "strokeWidth": 4}, "encoding": {}},
  {"transform": [{"filter": "datum.s === 'ACS'"}], "mark": {"type": "line", "color": "#8c8c8c", "strokeWidth": 4.5, "interpolate": "catmull-rom"}, "encoding": {}},
  {"transform": [{"filter": "datum.s === 'SCMP'"}], "mark": {"type": "point", "shape": "diamond", "filled": true, "color": "#00331a", "size": 260, "opacity": 1}},
  {"transform": [{"filter": "datum.s === 'ACMP'"}], "mark": {"type": "point", "shape": "square", "filled": true, "color": "#c00000", "size": 380, "opacity": 1}},
  {"transform": [{"filter": "datum.s === 'ACS'"}], "mark": {"type": "point", "shape": "triangle-up", "filled": true, "fill": "#808080", "stroke": "#4f6228", "strokeWidth": 1.5, "size": 420, "opacity": 1}}
 ]},
{"transform": [{"filter": "datum.p === 'webcache'"}],
 "encoding": {
  "x": {"field": "x", "type": "quantitative", "scale": {"domain": [0,36], "range": [1670.5,1860], "nice": false, "zero": false}, "axis": {"orient": "bottom", "values": [0,8,16,24,32], "offset": -171.5, "title": "(l) webcache", "titleY": 101}},
  "y": {"field": "y", "type": "quantitative", "scale": {"domain": [0,12], "range": [829.5,504], "nice": false}, "axis": {"orient": "left", "values": [0,2,4,6,8,10,12], "offset": -1670.5, "title": null}}
 },
 "layer": [
  {"transform": [{"filter": "datum.s === 'SCMP'"}], "mark": {"type": "line", "color": "#00331a", "strokeWidth": 4}, "encoding": {}},
  {"transform": [{"filter": "datum.s === 'ACMP'"}], "mark": {"type": "line", "color": "#c00000", "strokeWidth": 4}, "encoding": {}},
  {"transform": [{"filter": "datum.s === 'ACS'"}], "mark": {"type": "line", "color": "#8c8c8c", "strokeWidth": 4.5, "interpolate": "catmull-rom"}, "encoding": {}},
  {"transform": [{"filter": "datum.s === 'SCMP'"}], "mark": {"type": "point", "shape": "diamond", "filled": true, "color": "#00331a", "size": 260, "opacity": 1}},
  {"transform": [{"filter": "datum.s === 'ACMP'"}], "mark": {"type": "point", "shape": "square", "filled": true, "color": "#c00000", "size": 380, "opacity": 1}},
  {"transform": [{"filter": "datum.s === 'ACS'"}], "mark": {"type": "point", "shape": "triangle-up", "filled": true, "fill": "#808080", "stroke": "#4f6228", "strokeWidth": 1.5, "size": 420, "opacity": 1}}
 ]}
],
"resolve": {"scale": {"x": "independent", "y": "independent"}, "axis": {"x": "independent", "y": "independent"}}
}
